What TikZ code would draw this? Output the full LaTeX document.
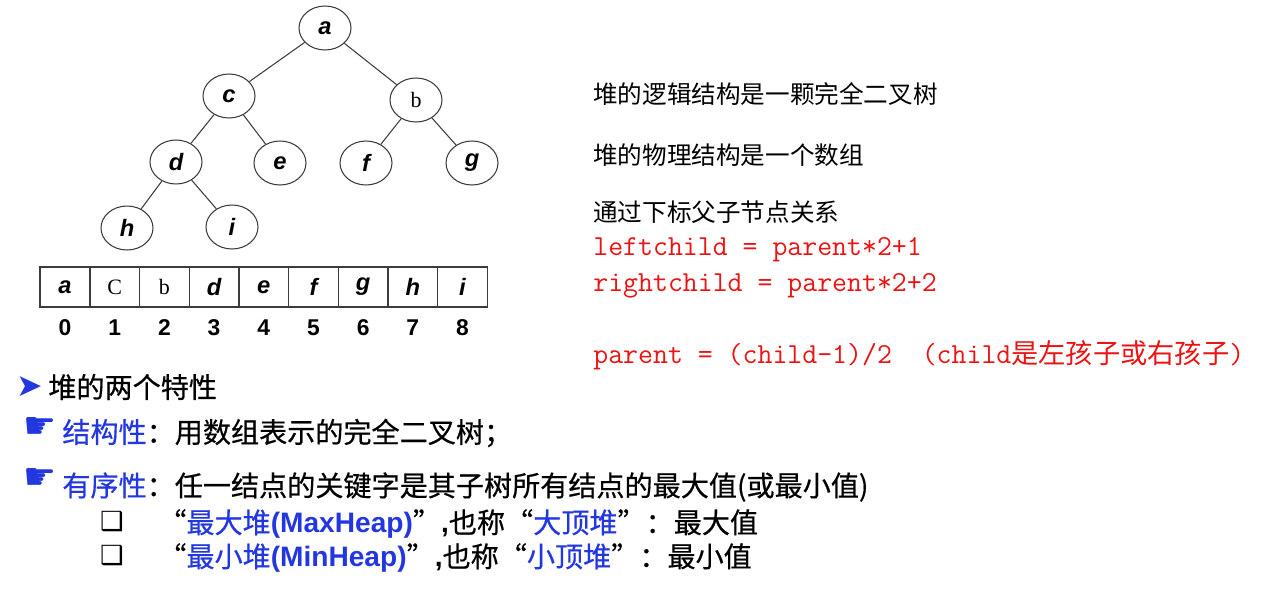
\documentclass[tikz,border=0pt]{standalone}
\usepackage{fontspec}
\setmainfont{Liberation Sans}
\newfontfamily\cjk{Noto Sans CJK SC}
\newfontfamily\cjkbody[FakeBold=0.5]{Noto Sans CJK SC}
\newfontfamily\romanfont{Liberation Serif}
\newfontfamily\symfont{DejaVu Sans}
\usetikzlibrary{
  shapes.geometric,
  positioning
}
\definecolor{codered}{RGB}{235, 20, 20}
\definecolor{heapblue}{RGB}{35, 55, 225}
\definecolor{linecolor}{RGB}{60, 60, 60}
\tikzset{
treenode/.style={
  ellipse,
  draw=linecolor,
  line width=0.6pt,
  minimum width=1.04cm,
  minimum height=0.88cm,
  inner sep=0pt,
  font=\fontsize{13.5}{13.5}\selectfont\bfseries\itshape
},
cellbox/.style={
  rectangle,
  draw=linecolor,
  line width=0.8pt,
  outer sep=0pt,
  minimum width=0.994cm,
  minimum height=0.8cm,
  inner sep=0pt,
  font=\fontsize{13.5}{13.5}\selectfont\bfseries\itshape
},
idxlabel/.style={
  inner sep=0pt,
  font=\fontsize{13}{13}\selectfont\bfseries
},
notetext/.style={
  anchor=west,
  inner sep=0pt,
  font=\cjk\fontsize{14}{16}\selectfont
},
codetext/.style={
  anchor=west,
  inner sep=0pt,
  text=codered,
  font=\ttfamily\fontsize{16.5}{18}\selectfont
},
bodytext/.style={
  anchor=west,
  inner sep=0pt,
  font=\cjkbody\fontsize{16}{18}\selectfont
},
marker/.style={
  inner sep=0pt,
  font=\symfont\fontsize{14}{14}\selectfont
},
handmark/.style={
  marker,
  text=heapblue,
  font=\symfont\fontsize{21}{21}\selectfont
},
edge/.style={
  draw=linecolor,
  line width=0.6pt
}
}

\begin{document}
\begin{tikzpicture}[x=0.02cm, y=-0.02cm]
    \useasboundingbox (0,0) rectangle (1263,595);

    % Tree
    \node[treenode] (na) at (325,28) {a};
    \node[treenode] (nc) at (229,96) {c};
    \node[treenode, font=\romanfont\fontsize{12.5}{12.5}\selectfont] (nb) at (416,100) {b};
    \node[treenode] (nd) at (176,162) {d};
    \node[treenode] (ne) at (280,163) {e};
    \node[treenode] (nf) at (366,163) {f};
    \node[treenode] (ng) at (472,163) {g};
    \node[treenode] (nh) at (127,228) {h};
    \node[treenode] (ni) at (232,227) {i};

    \draw[edge] (na) -- (nc);
    \draw[edge] (na) -- (nb);
    \draw[edge] (nc) -- (nd);
    \draw[edge] (nc) -- (ne);
    \draw[edge] (nb) -- (nf);
    \draw[edge] (nb) -- (ng);
    \draw[edge] (nd) -- (nh);
    \draw[edge] (nd) -- (ni);

    % Array
    \node[cellbox] (cell0) at (65,287) {a};
    \node[cellbox, right=0pt of cell0, font=\romanfont\fontsize{12.5}{12.5}\selectfont] (cell1) {C};
    \node[cellbox, right=0pt of cell1, font=\romanfont\fontsize{12.5}{12.5}\selectfont] (cell2) {b};
    \node[cellbox, right=0pt of cell2] (cell3) {d};
    \node[cellbox, right=0pt of cell3] (cell4) {e};
    \node[cellbox, right=0pt of cell4] (cell5) {f};
    \node[cellbox, right=0pt of cell5] (cell6) {g};
    \node[cellbox, right=0pt of cell6] (cell7) {h};
    \node[cellbox, right=0pt of cell7] (cell8) {i};

    % Indices
    \node[idxlabel] (idx0) at ([yshift=-0.82cm]cell0.center) {0};
    \node[idxlabel] (idx1) at ([yshift=-0.82cm]cell1.center) {1};
    \node[idxlabel] (idx2) at ([yshift=-0.82cm]cell2.center) {2};
    \node[idxlabel] (idx3) at ([yshift=-0.82cm]cell3.center) {3};
    \node[idxlabel] (idx4) at ([yshift=-0.82cm]cell4.center) {4};
    \node[idxlabel] (idx5) at ([yshift=-0.82cm]cell5.center) {5};
    \node[idxlabel] (idx6) at ([yshift=-0.82cm]cell6.center) {6};
    \node[idxlabel] (idx7) at ([yshift=-0.82cm]cell7.center) {7};
    \node[idxlabel] (idx8) at ([yshift=-0.82cm]cell8.center) {8};

    % Notes on the right
    \node[notetext] (logic) at (593,94) {堆的逻辑结构是一颗完全二叉树};
    \node[notetext] (phys) at (593,155) {堆的物理结构是一个数组};
    \node[notetext] (rel) at (593,212) {通过下标父子节点关系};
    \node[codetext] (lchild) at (593,250) {leftchild = parent*2+1};
    \node[codetext] (rchild) at (593,286) {rightchild = parent*2+2};
    \node[codetext] (parent) at (593,355) {parent = (child-1)/2~~(child{\cjk\fontsize{15.5}{16}\selectfont 是左孩子或右孩子})};

    % Properties
    \node[marker, text=heapblue, font=\symfont\fontsize{18}{18}\selectfont] (mk1) at (30,387) {➤};
    \node[bodytext] (prop) at (48,387) {堆的两个特性};

    \node[handmark] (hand1) at (40,428) {☛};
    \node[bodytext] (shape) at (62,433) {{\color{heapblue}结构性}：用数组表示的完全二叉树；};

    \node[handmark] (hand2) at (40,479) {☛};
    \node[bodytext] (order) at (62,487) {{\color{heapblue}有序性}：任一结点的关键字是其子树所有结点的最大值(或最小值)};

    \node[marker, font=\symfont\fontsize{15}{15}\selectfont] (box1) at (112,522) {❑};
    \node[bodytext] (maxheap) at (158,524) {“{\color{heapblue}最大堆{\rmfamily\bfseries(MaxHeap)}}”{\rmfamily\bfseries ,}也称“{\color{heapblue}大顶堆}”：最大值};

    \node[marker, font=\symfont\fontsize{15}{15}\selectfont] (box2) at (112,556) {❑};
    \node[bodytext] (minheap) at (158,558) {“{\color{heapblue}最小堆{\rmfamily\bfseries(MinHeap)}}”{\rmfamily\bfseries ,}也称“{\color{heapblue}小顶堆}”：最小值};

\end{tikzpicture}
\end{document}
